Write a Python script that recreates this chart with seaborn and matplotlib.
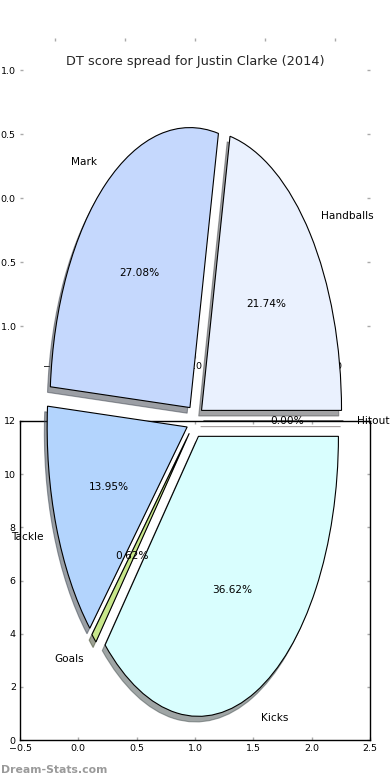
import matplotlib
matplotlib.use("Agg")
import matplotlib.pyplot as plt
import seaborn as sns

# ---- data ----
categories = ["Handballs", "Mark", "Tackle", "Goals", "Kicks", "Hitout"]
shares = [21.74, 27.08, 13.95, 0.62, 36.62, 0.00]
slice_colors = ["#eaf1fe", "#c5d8fd", "#b3d4fd", "#c8e78a", "#d9fefe", "#f2c4c4"]
top_xticks = [-1.0, -0.5, 0.0, 0.5, 1.0]
top_yticks = [-1.0, -0.5, 0.0, 0.5, 1.0]
bottom_xticks = [-0.5, 0.0, 0.5, 1.0, 1.5, 2.0, 2.5]
bottom_yticks = [0, 2, 4, 6, 8, 10, 12]
title_text = "DT score spread for Justin Clarke (2014)"
watermark = "Dream-Stats.com"

sns.set_theme(style="white")
plt.rcParams["font.family"] = ["DejaVu Sans"]
plt.rcParams["axes.unicode_minus"] = True

W, H = 390, 780
fig = plt.figure(figsize=(W / 100, H / 100), dpi=100)

tick_kw = dict(direction="in", length=2.2, width=1.0, color="#aaaaaa",
               labelsize=6.8, labelcolor="black", top=True, right=True,
               bottom=True, left=True, pad=3.0)

# upper (empty) axes
ax_top = fig.add_axes([20 / W, (H - 358) / H, 350 / W, 320 / H])
ax_top.set_xlim(-1.25, 1.25)
ax_top.set_ylim(-1.25, 1.25)
ax_top.set_xticks(top_xticks)
ax_top.set_yticks(top_yticks)
ax_top.tick_params(**tick_kw)
sns.despine(ax=ax_top, left=True, bottom=True, top=True, right=True)
ax_top.set_zorder(1)

# lower (empty) axes with frame
ax_bot = fig.add_axes([20 / W, 40 / H, 350 / W, 319 / H])
ax_bot.set_xlim(bottom_xticks[0], bottom_xticks[-1])
ax_bot.set_ylim(bottom_yticks[0], bottom_yticks[-1])
ax_bot.set_xticks(bottom_xticks)
ax_bot.set_yticks(bottom_yticks)
ax_bot.tick_params(**tick_kw)
for s in ax_bot.spines.values():
    s.set_visible(True)
    s.set_color("black")
    s.set_linewidth(1.0)
ax_bot.set_zorder(2)

# pie axes on top
ax_pie = fig.add_axes([20 / W, 9 / H, 350 / W, 700 / H])
ax_pie.set_zorder(3)
ax_pie.pie(shares, labels=categories, colors=slice_colors,
           explode=[0.06] * len(shares), autopct="%1.2f%%",
           shadow={"ox": -0.0144, "oy": -0.0144}, startangle=0,
           wedgeprops={"edgecolor": "black", "linewidth": 0.8},
           textprops={"fontsize": 7.6, "color": "black"})
ax_pie.set_aspect("auto")
ax_pie.set_xlim(-1.25, 1.25)
ax_pie.set_ylim(-1.25, 1.25)
ax_pie.axis("off")
ax_pie.set_title(title_text, fontsize=9.3, pad=4)

fig.text(0.002, 10 / H, watermark, fontsize=7.8, color="#9a9a9a",
         fontweight="bold", va="center", ha="left")

fig.savefig("out.png", dpi=100)
